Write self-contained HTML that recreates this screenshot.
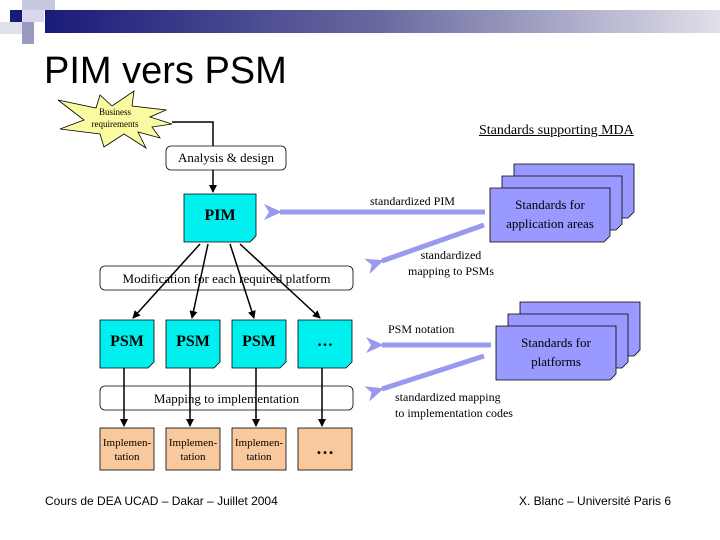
<!DOCTYPE html>
<html><head><style>
body{margin:0;width:720px;height:540px;background:#fff;overflow:hidden;position:relative;font-family:"Liberation Serif",serif}
.t{position:absolute;white-space:nowrap}
</style></head><body>
<svg width="720" height="540" style="position:absolute;left:0;top:0">
<defs>
<linearGradient id="g" x1="0" x2="1"><stop offset="0" stop-color="#1a1a7a"/><stop offset="0.5" stop-color="#6a6aa0"/><stop offset="1" stop-color="#e0e0ea"/></linearGradient>
<marker id="a" markerWidth="8" markerHeight="8" refX="7" refY="4" orient="auto" markerUnits="userSpaceOnUse"><path d="M0,0 L8,4 L0,8 z" fill="#000"/></marker>
<marker id="b" markerWidth="18" markerHeight="18" refX="2" refY="9" orient="auto" markerUnits="userSpaceOnUse"><path d="M18,1 L0,9 L18,17 L13,9 z" fill="#9999f0"/></marker>
</defs>
<rect x="45" y="10" width="675" height="23" fill="url(#g)"/>
<rect x="22" y="0" width="33" height="10" fill="#c8c8e0"/>
<rect x="10" y="10" width="12" height="12" fill="#1a1a7a"/>
<rect x="22" y="10" width="22" height="12" fill="#d8d8e8"/>
<rect x="0" y="22" width="22" height="12" fill="#e0e0ea"/>
<rect x="22" y="22" width="12" height="22" fill="#9a9ac0"/>
<polygon points="58,100 96,108 100,95 112,106 134,91 132,106 166,110 150,117 172,124 152,127 160,138 138,132 146,148 124,134 104,147 100,134 60,129 84,120" fill="#fafaa0" stroke="#000" stroke-width="0.8"/>
<polyline points="172,122 213,122 213,192" fill="none" stroke="#000" stroke-width="1.5" marker-end="url(#a)"/>
<g fill="none" stroke="#000" stroke-width="0.8">
<rect x="166" y="146" width="120" height="24" rx="5" fill="#fff"/>
<rect x="100" y="266" width="253" height="24" rx="5" fill="#fff"/>
<rect x="100" y="386" width="253" height="24" rx="5" fill="#fff"/>
</g>
<g fill="#00f0f0" stroke="#000" stroke-width="0.8">
<path d="M184,194 H256 V236 L250,242 H184 Z"/>
<path d="M100,320 H154 V362 L148,368 H100 Z"/>
<path d="M166,320 H220 V362 L214,368 H166 Z"/>
<path d="M232,320 H286 V362 L280,368 H232 Z"/>
<path d="M298,320 H352 V362 L346,368 H298 Z"/>
</g>
<g fill="#f9c89c" stroke="#000" stroke-width="0.8">
<rect x="100" y="428" width="54" height="42"/>
<rect x="166" y="428" width="54" height="42"/>
<rect x="232" y="428" width="54" height="42"/>
<rect x="298" y="428" width="54" height="42"/>
</g>
<g stroke="#000" stroke-width="1.5" marker-end="url(#a)">
<line x1="200" y1="244" x2="133" y2="318"/>
<line x1="208" y1="244" x2="192" y2="318"/>
<line x1="230" y1="244" x2="254" y2="318"/>
<line x1="240" y1="244" x2="320" y2="318"/>
<line x1="124" y1="368" x2="124" y2="426"/>
<line x1="190" y1="368" x2="190" y2="426"/>
<line x1="256" y1="368" x2="256" y2="426"/>
<line x1="322" y1="368" x2="322" y2="426"/>
</g>
<g fill="#9999ff" stroke="#000" stroke-width="0.8">
<path d="M514,164 H634 V212 L628,218 H514 Z"/>
<path d="M502,176 H622 V224 L616,230 H502 Z"/>
<path d="M490,188 H610 V236 L604,242 H490 Z"/>
<path d="M520,302 H640 V350 L634,356 H520 Z"/>
<path d="M508,314 H628 V362 L622,368 H508 Z"/>
<path d="M496,326 H616 V374 L610,380 H496 Z"/>
</g>
<g stroke="#9999f0" stroke-width="5" marker-end="url(#b)">
<line x1="485" y1="212" x2="280" y2="212"/>
<line x1="484" y1="225" x2="382" y2="261"/>
<line x1="491" y1="345" x2="382" y2="345"/>
<line x1="484" y1="356" x2="382" y2="389"/>
</g>
</svg>
<div class="t" style="left:44px;top:50px;font:38px 'Liberation Sans',sans-serif">PIM vers PSM</div>
<div class="t" style="left:80px;top:106px;width:70px;text-align:center;font-size:9px;line-height:12px">Business<br>requirements</div>
<div class="t" style="left:479px;top:123px;font-size:14px;text-decoration:underline">Standards supporting MDA</div>
<div class="t" style="left:166px;top:150px;width:120px;text-align:center;font-size:13px">Analysis &amp; design</div>
<div class="t" style="left:184px;top:207px;width:72px;text-align:center;font-size:16px;font-weight:bold">PIM</div>
<div class="t" style="left:100px;top:271px;width:253px;text-align:center;font-size:13px">Modification for each required platform</div>
<div class="t" style="left:100px;top:333px;width:54px;text-align:center;font-size:16px;font-weight:bold">PSM</div>
<div class="t" style="left:166px;top:333px;width:54px;text-align:center;font-size:16px;font-weight:bold">PSM</div>
<div class="t" style="left:232px;top:333px;width:54px;text-align:center;font-size:16px;font-weight:bold">PSM</div>
<div class="t" style="left:298px;top:333px;width:54px;text-align:center;font-size:16px;font-weight:bold">…</div>
<div class="t" style="left:100px;top:391px;width:253px;text-align:center;font-size:13px">Mapping to implementation</div>
<div class="t" style="left:100px;top:436px;width:54px;text-align:center;font-size:11px;line-height:14px">Implemen-<br>tation</div>
<div class="t" style="left:166px;top:436px;width:54px;text-align:center;font-size:11px;line-height:14px">Implemen-<br>tation</div>
<div class="t" style="left:232px;top:436px;width:54px;text-align:center;font-size:11px;line-height:14px">Implemen-<br>tation</div>
<div class="t" style="left:298px;top:438px;width:54px;text-align:center;font-size:18px;font-weight:bold">…</div>
<div class="t" style="left:370px;top:194px;font-size:12px">standardized PIM</div>
<div class="t" style="left:490px;top:195px;width:120px;text-align:center;font-size:13px;line-height:19px">Standards for<br>application areas</div>
<div class="t" style="left:390px;top:247px;width:122px;text-align:center;font-size:12px;line-height:16px">standardized<br>mapping to PSMs</div>
<div class="t" style="left:388px;top:322px;font-size:12px">PSM notation</div>
<div class="t" style="left:496px;top:333px;width:120px;text-align:center;font-size:13px;line-height:19px">Standards for<br>platforms</div>
<div class="t" style="left:395px;top:389px;font-size:12px;line-height:16px">standardized mapping<br>to implementation codes</div>
<div class="t" style="left:45px;top:494px;font:12px 'Liberation Sans',sans-serif">Cours de DEA UCAD – Dakar – Juillet 2004</div>
<div class="t" style="left:519px;top:494px;font:12px 'Liberation Sans',sans-serif">X. Blanc – Université Paris 6</div>
</body></html>
